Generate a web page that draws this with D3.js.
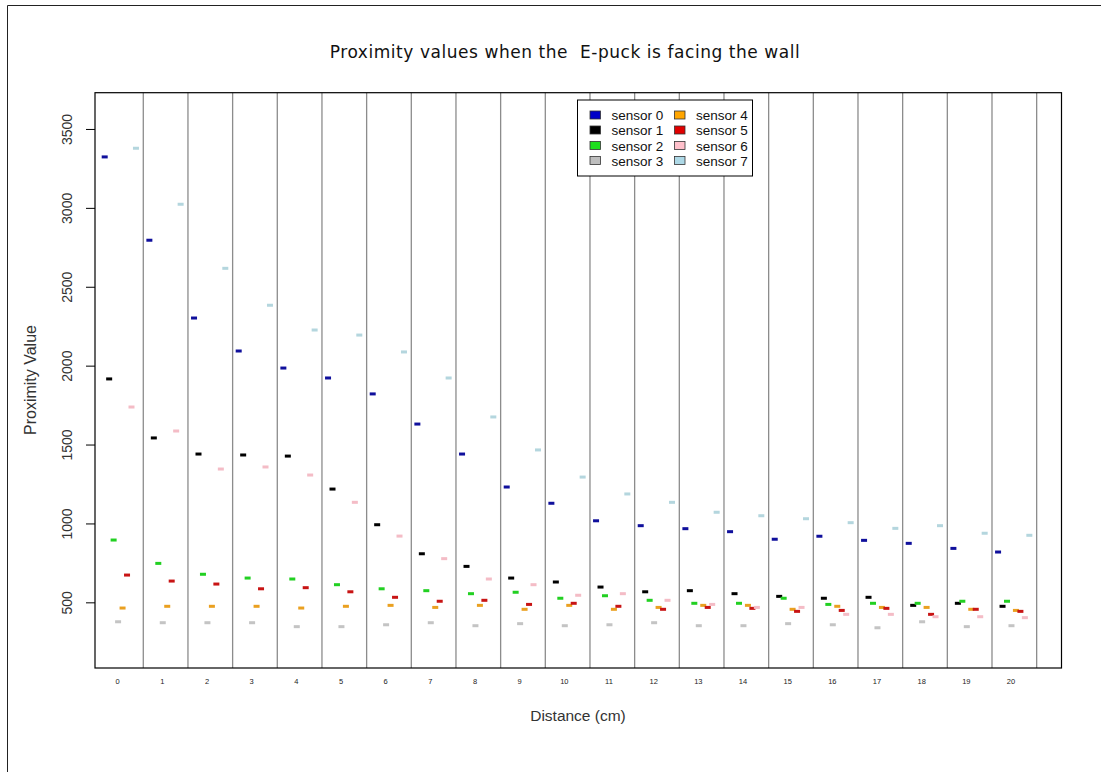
<!DOCTYPE html>
<html>
<head>
<meta charset="utf-8">
<script src="https://cdn.jsdelivr.net/npm/d3@7"></script>
<style>
  html, body { margin: 0; padding: 0; background: #fff; }
  svg { display: block; }
</style>
</head>
<body>
<svg id="chart" width="1101" height="772"></svg>
<script>
// Distances (cm) at which the readings were taken
const distances = d3.range(0, 21);

// Sensor names and colours
const sensors = ["sensor 0", "sensor 1", "sensor 2", "sensor 3", "sensor 4", "sensor 5", "sensor 6", "sensor 7"];
const sensorColors = ["#0000c8", "#000000", "#1ee01e", "#bebebe", "#ffa500", "#e00000", "#ffc0cb", "#add8e6"];
const markColors = ["#10109c", "#000000", "#22d022", "#c4c4c4", "#eaa020", "#c81414", "#f4bcc6", "#b4d6de"];

// Proximity readings per sensor, one per distance 0..20 cm
const sensor0 = [3326, 2798, 2305, 2096, 1988, 1925, 1824, 1633, 1443, 1234, 1131, 1020, 989, 970, 951, 903, 922, 896, 877, 845, 822];
const sensor1 = [1919, 1545, 1443, 1437, 1430, 1221, 995, 811, 731, 657, 632, 600, 570, 577, 558, 541, 529, 535, 484, 497, 478];
const sensor2 = [898, 750, 681, 657, 651, 615, 589, 577, 558, 567, 529, 545, 516, 497, 497, 529, 490, 497, 497, 510, 510];
const sensor3 = [380, 374, 374, 374, 349, 349, 361, 374, 355, 368, 355, 361, 374, 355, 355, 368, 361, 342, 380, 349, 355];
const sensor4 = [467, 478, 478, 478, 467, 478, 484, 471, 484, 459, 484, 459, 471, 484, 484, 459, 478, 471, 471, 459, 452];
const sensor5 = [676, 638, 619, 589, 596, 570, 535, 510, 516, 490, 497, 478, 459, 471, 465, 446, 452, 465, 427, 459, 446];
const sensor6 = [1741, 1589, 1348, 1361, 1310, 1137, 923, 780, 651, 615, 548, 558, 516, 490, 471, 471, 427, 427, 412, 412, 406];
const sensor7 = [3381, 3026, 2620, 2386, 2229, 2197, 2090, 1925, 1678, 1469, 1297, 1190, 1137, 1074, 1052, 1033, 1008, 972, 989, 941, 928];
const sensorValues = [sensor0, sensor1, sensor2, sensor3, sensor4, sensor5, sensor6, sensor7];

// Y tick values
const yTicks = [500, 1000, 1500, 2000, 2500, 3000, 3500];

const svg = d3.select("#chart");

// Plot frame
const frame = { left: 95, right: 1061.5, top: 92.7, bottom: 668 };

// x runs over "slots": each distance owns 10 slots, sensors sit on slots 1..8
const slotsPerGroup = 10;
const x = d3.scaleLinear().domain([-1.17, 215.2]).range([frame.left, frame.right]);
const y = d3.scaleLinear().domain([87, 3733]).range([frame.bottom, frame.top]);

const sensorSlot = (d, s) => d * slotsPerGroup + 1 + s;
const separatorSlot = d => d * slotsPerGroup + 9.64;
const labelSlot = d => d * slotsPerGroup + 3.9;

// Page border (top and left)
svg.append("line").attr("x1", 7.5).attr("x2", 1101).attr("y1", 5.5).attr("y2", 5.5)
  .attr("stroke", "#222").attr("stroke-width", 1);
svg.append("line").attr("x1", 7.5).attr("x2", 7.5).attr("y1", 5.5).attr("y2", 772)
  .attr("stroke", "#222").attr("stroke-width", 1);

// Title
svg.append("text")
  .attr("x", 565).attr("y", 58)
  .attr("text-anchor", "middle")
  .attr("font-family", "DejaVu Sans, sans-serif")
  .attr("font-size", 17)
  .attr("letter-spacing", 0.55)
  .attr("fill", "#111")
  .attr("xml:space", "preserve")
  .style("white-space", "pre")
  .text("Proximity values when the  E-puck is facing the wall");

// Separators between distance groups
svg.append("g").selectAll("line")
  .data(distances)
  .join("line")
  .attr("x1", d => x(separatorSlot(d)))
  .attr("x2", d => x(separatorSlot(d)))
  .attr("y1", frame.top)
  .attr("y2", frame.bottom)
  .attr("stroke", "#8c8c8c")
  .attr("stroke-width", 1.3);

// Readings
const points = [];
sensorValues.forEach((vals, s) => vals.forEach((v, d) => points.push({ s, d, v })));
svg.append("g").selectAll("rect")
  .data(points)
  .join("rect")
  .attr("x", p => x(sensorSlot(p.d, p.s)) - 3)
  .attr("y", p => y(p.v) - 1.5)
  .attr("width", 6)
  .attr("height", 3)
  .attr("fill", p => markColors[p.s]);

// Frame
svg.append("rect")
  .attr("x", frame.left).attr("y", frame.top)
  .attr("width", frame.right - frame.left)
  .attr("height", frame.bottom - frame.top)
  .attr("fill", "none")
  .attr("stroke", "#000")
  .attr("stroke-width", 1.2);

// Y axis ticks and rotated labels
const yAxis = svg.append("g");
yAxis.selectAll("line")
  .data(yTicks)
  .join("line")
  .attr("x1", frame.left - 9).attr("x2", frame.left)
  .attr("y1", d => y(d)).attr("y2", d => y(d))
  .attr("stroke", "#000").attr("stroke-width", 1);
yAxis.selectAll("text")
  .data(yTicks)
  .join("text")
  .attr("transform", d => `translate(71.5,${y(d)}) rotate(-90)`)
  .attr("text-anchor", "middle")
  .attr("font-family", "Liberation Sans, Arial, sans-serif")
  .attr("font-size", 14)
  .attr("fill", "#333")
  .text(d => d);

// X labels
svg.append("g").selectAll("text")
  .data(distances)
  .join("text")
  .attr("x", d => x(labelSlot(d)))
  .attr("y", 684)
  .attr("text-anchor", "middle")
  .attr("font-family", "Liberation Sans, Arial, sans-serif")
  .attr("font-size", 7.5)
  .attr("fill", "#222")
  .text(d => d);

// Axis titles
svg.append("text")
  .attr("x", 578).attr("y", 721)
  .attr("text-anchor", "middle")
  .attr("font-family", "Liberation Sans, Arial, sans-serif")
  .attr("font-size", 15.5)
  .attr("fill", "#333")
  .text("Distance (cm)");

svg.append("text")
  .attr("transform", "translate(36,380) rotate(-90)")
  .attr("text-anchor", "middle")
  .attr("font-family", "Liberation Sans, Arial, sans-serif")
  .attr("font-size", 16)
  .attr("fill", "#333")
  .text("Proximity Value");

// Legend
const legend = svg.append("g");
legend.append("rect")
  .attr("x", 577.5).attr("y", 100)
  .attr("width", 175).attr("height", 76)
  .attr("fill", "#fff")
  .attr("stroke", "#000")
  .attr("stroke-width", 1);
const rowY = [115, 130, 145.5, 160.5];
const entries = legend.selectAll("g.entry")
  .data(sensors)
  .join("g")
  .attr("class", "entry")
  .attr("transform", (d, i) => `translate(${i < 4 ? 590 : 674.5},${rowY[i % 4]})`);
entries.append("rect")
  .attr("x", 0).attr("y", -4)
  .attr("width", 10.5).attr("height", 8)
  .attr("fill", (d, i) => sensorColors[i])
  .attr("stroke", "#333")
  .attr("stroke-width", 0.8);
entries.append("text")
  .attr("x", 21.5).attr("y", 5)
  .attr("font-family", "Liberation Sans, Arial, sans-serif")
  .attr("font-size", 13.5)
  .attr("fill", "#111")
  .text(d => d);
</script>
</body>
</html>
